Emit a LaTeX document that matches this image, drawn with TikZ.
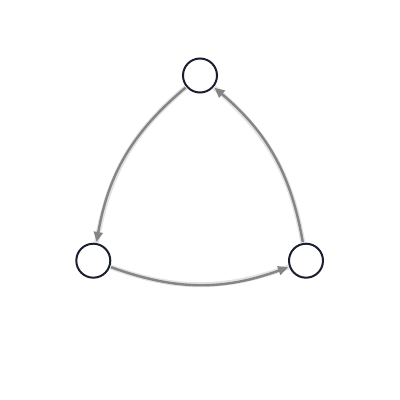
\documentclass[tikz,border=0pt]{standalone}
\usetikzlibrary{arrows.meta}
\definecolor{ringcol}{HTML}{1B1E2E}
\definecolor{arrcol}{HTML}{858585}
\definecolor{shadcol}{HTML}{CFCFCF}
\begin{document}
\begin{tikzpicture}[x=1pt,y=1pt,
  vert/.style={circle,draw=ringcol,line width=2pt,fill=white,minimum size=34pt,inner sep=0pt},
  link/.style={draw=arrcol,line width=2.4pt,-{Triangle[length=10pt,width=9pt]},shorten >=1pt,shorten <=1pt},
  halo/.style={draw=shadcol,line width=5pt,opacity=0.6}]
\useasboundingbox (0,0) rectangle (400,400);
\node[vert] (t) at (200,324.5) {};
\node[vert] (l) at (93.3,139.3) {};
\node[vert] (r) at (306,139.3) {};
\draw[halo] (t) to[bend right=20] (l);
\draw[halo] (l) to[bend right=20] (r);
\draw[halo] (r) to[bend right=20] (t);
\draw[link] (t) to[bend right=20] (l);
\draw[link] (l) to[bend right=20] (r);
\draw[link] (r) to[bend right=20] (t);
\end{tikzpicture}
\end{document}
